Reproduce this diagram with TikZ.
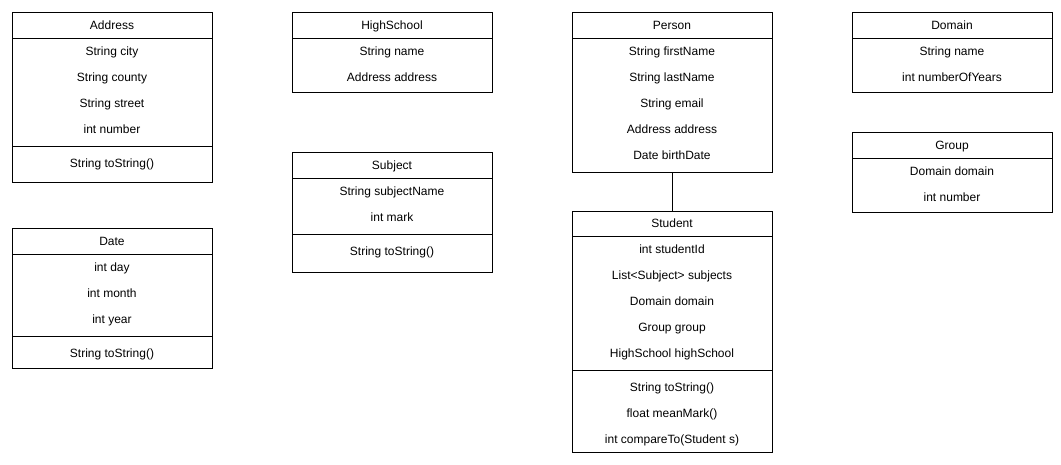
\documentclass[tikz,border=0pt]{standalone}
\usepackage{fontspec}
\setmainfont{Liberation Sans}
\begin{document}
\begin{tikzpicture}[x=1pt,y=-1pt,
  cls/.style={draw,line width=1pt,anchor=north west,inner sep=0pt,minimum width=200pt},
  sepline/.style={line width=1pt},
  txt/.style={font=\fontsize{12}{14}\selectfont,inner sep=0pt,text height=8.6pt,text depth=0pt},
  conn/.style={line width=1pt}]
\useasboundingbox (0,0) rectangle (1061,464);
% Address
\node[cls,minimum height=170pt] (address) at (12,12) {};
\node[txt] (address-t) at (112,25) {Address};
\draw[sepline] (address.north west) ++(0,26) -- ++(200,0);
\node[txt] (address-a1) at (112,51) {String city};
\node[txt] (address-a2) at (112,77) {String county};
\node[txt] (address-a3) at (112,103) {String street};
\node[txt] (address-a4) at (112,129) {int number};
\draw[sepline] (address.north west) ++(0,134) -- ++(200,0);
\node[txt] (address-m1) at (112,163) {String toString()};
% Date
\node[cls,minimum height=140pt] (date) at (12,228) {};
\node[txt] (date-t) at (112,241) {Date};
\draw[sepline] (date.north west) ++(0,26) -- ++(200,0);
\node[txt] (date-a1) at (112,267) {int day};
\node[txt] (date-a2) at (112,293) {int month};
\node[txt] (date-a3) at (112,319) {int year};
\draw[sepline] (date.north west) ++(0,108) -- ++(200,0);
\node[txt] (date-m1) at (112,353) {String toString()};
% HighSchool
\node[cls,minimum height=80pt] (highschool) at (292,12) {};
\node[txt] (highschool-t) at (392,25) {HighSchool};
\draw[sepline] (highschool.north west) ++(0,26) -- ++(200,0);
\node[txt] (highschool-a1) at (392,51) {String name};
\node[txt] (highschool-a2) at (392,77) {Address address};
% Subject
\node[cls,minimum height=120pt] (subject) at (292,152) {};
\node[txt] (subject-t) at (392,165) {Subject};
\draw[sepline] (subject.north west) ++(0,26) -- ++(200,0);
\node[txt] (subject-a1) at (392,191) {String subjectName};
\node[txt] (subject-a2) at (392,217) {int mark};
\draw[sepline] (subject.north west) ++(0,82) -- ++(200,0);
\node[txt] (subject-m1) at (392,251) {String toString()};
% Person
\node[cls,minimum height=160pt] (person) at (572,12) {};
\node[txt] (person-t) at (672,25) {Person};
\draw[sepline] (person.north west) ++(0,26) -- ++(200,0);
\node[txt] (person-a1) at (672,51) {String firstName};
\node[txt] (person-a2) at (672,77) {String lastName};
\node[txt] (person-a3) at (672,103) {String email};
\node[txt] (person-a4) at (672,129) {Address address};
\node[txt] (person-a5) at (672,155) {Date birthDate};
% Student
\node[cls,minimum height=241pt] (student) at (572,210.5) {};
\node[txt] (student-t) at (672,223) {Student};
\draw[sepline] (student.north west) ++(0,26) -- ++(200,0);
\node[txt] (student-a1) at (672,249) {int studentId};
\node[txt] (student-a2) at (672,275) {List<Subject> subjects};
\node[txt] (student-a3) at (672,301) {Domain domain};
\node[txt] (student-a4) at (672,327) {Group group};
\node[txt] (student-a5) at (672,353) {HighSchool highSchool};
\draw[sepline] (student.north west) ++(0,160) -- ++(200,0);
\node[txt] (student-m1) at (672,387) {String toString()};
\node[txt] (student-m2) at (672,413) {float meanMark()};
\node[txt] (student-m3) at (672,439) {int compareTo(Student s)};
% Domain
\node[cls,minimum height=80pt] (domain) at (852,12) {};
\node[txt] (domain-t) at (952,25) {Domain};
\draw[sepline] (domain.north west) ++(0,26) -- ++(200,0);
\node[txt] (domain-a1) at (952,51) {String name};
\node[txt] (domain-a2) at (952,77) {int numberOfYears};
% Group
\node[cls,minimum height=80pt] (group) at (852,132) {};
\node[txt] (group-t) at (952,145) {Group};
\draw[sepline] (group.north west) ++(0,26) -- ++(200,0);
\node[txt] (group-a1) at (952,171) {Domain domain};
\node[txt] (group-a2) at (952,197) {int number};
% connector
\draw[conn] (person.south) -- (student.north);
\end{tikzpicture}
\end{document}
